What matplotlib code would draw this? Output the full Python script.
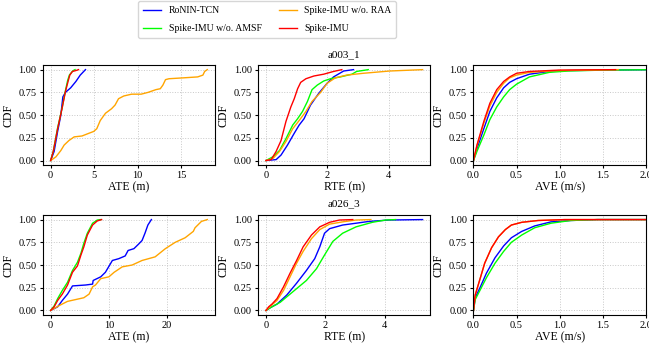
import numpy as np
import matplotlib
matplotlib.use('Agg')
from matplotlib import pyplot as plt

plt.rcParams['font.family'] = ['Liberation Serif', 'DejaVu Serif']

methods = ['RoNIN-TCN', 'Spike-IMU w/o. AMSF', 'Spike-IMU w/o. RAA', 'Spike-IMU']
colors = ['blue', 'lime', 'orange', 'red']
sequences = ['a003_1', 'a026_3']
metrics = ['ATE (m)', 'RTE (m)', 'AVE (m/s)']

#---------------------------------------- a003_1 ----------------------------------------#
# ATE
a003_ate_ronin_x = [0, 0.4, 0.8, 1.17, 1.4, 1.7, 2.3, 2.9, 3.4, 4.0]
a003_ate_ronin_y = [0, 0.10, 0.32, 0.50, 0.70, 0.75, 0.80, 0.87, 0.94, 1.0]
a003_ate_amsf_x = [0, 0.3, 0.8, 1.3, 1.7, 1.95, 2.15, 2.4, 2.6, 2.8]
a003_ate_amsf_y = [0, 0.10, 0.36, 0.57, 0.77, 0.88, 0.94, 0.97, 0.99, 1.0]
a003_ate_raa_x = [0, 0.6, 1.17, 1.55, 2.1, 2.7, 3.6, 4.4, 4.95, 5.3, 5.7, 6.3, 7.0, 7.4, 7.8, 8.4,
                  9.3, 10.4, 11.2, 12.1, 12.6, 12.9, 13.2, 13.6, 15.3, 16.9, 17.5, 17.7, 18.0]
a003_ate_raa_y = [0, 0.04, 0.11, 0.17, 0.22, 0.26, 0.27, 0.30, 0.32, 0.35, 0.44, 0.52, 0.57, 0.61, 0.68, 0.71,
                  0.73, 0.73, 0.75, 0.78, 0.79, 0.83, 0.89, 0.90, 0.91, 0.92, 0.94, 0.98, 1.0]
a003_ate_spike_x = [0, 0.3, 0.8, 1.3, 1.7, 2.0, 2.2, 2.5, 2.9, 3.2]
a003_ate_spike_y = [0, 0.10, 0.35, 0.57, 0.76, 0.87, 0.94, 0.98, 0.99, 1.0]

# RTE
a003_rte_ronin_x = [0, 0.33, 0.49, 0.7, 0.92, 1.08, 1.24, 1.45, 1.72, 1.99, 2.2, 2.53, 2.85]
a003_rte_ronin_y = [0, 0.01, 0.06, 0.17, 0.30, 0.39, 0.46, 0.61, 0.74, 0.85, 0.92, 0.985, 1.0]
a003_rte_amsf_x = [0, 0.22, 0.44, 0.65, 0.87, 1.03, 1.19, 1.35, 1.5, 1.67, 1.88, 2.1, 2.42, 2.8, 2.95, 3.33]
a003_rte_amsf_y = [0, 0.04, 0.11, 0.24, 0.39, 0.46, 0.54, 0.65, 0.78, 0.83, 0.875, 0.90, 0.92, 0.95, 0.98, 1.0]
a003_rte_raa_x = [0, 0.22, 0.44, 0.65, 0.87, 1.08, 1.3, 1.5, 1.78, 1.99, 2.26, 2.63, 3.17, 4.03, 5.1]
a003_rte_raa_y = [0, 0.02, 0.10, 0.21, 0.35, 0.44, 0.54, 0.65, 0.75, 0.85, 0.91, 0.94, 0.96, 0.985, 1.0]
a003_rte_spike_x = [0, 0.17, 0.33, 0.49, 0.65, 0.81, 0.92, 1.03, 1.13, 1.3, 1.56, 1.88, 2.2, 2.47]
a003_rte_spike_y = [0, 0.01, 0.10, 0.22, 0.43, 0.59, 0.68, 0.79, 0.86, 0.90, 0.93, 0.95, 0.98, 1.0]

# AVE
a003_ave_ronin_x = [0, 0.04, 0.12, 0.19, 0.27, 0.35, 0.42, 0.5, 0.65, 0.88, 1.1, 1.5, 2.2]
a003_ave_ronin_y = [0, 0.13, 0.35, 0.54, 0.69, 0.80, 0.86, 0.90, 0.95, 0.98, 0.99, 0.995, 1.0]
a003_ave_amsf_x = [0, 0.04, 0.12, 0.19, 0.27, 0.35, 0.42, 0.5, 0.65, 0.88, 1.1, 1.5, 2.2]
a003_ave_amsf_y = [0, 0.10, 0.28, 0.45, 0.59, 0.70, 0.78, 0.84, 0.92, 0.97, 0.985, 0.995, 1.0]
a003_ave_raa_x = [0, 0.04, 0.12, 0.19, 0.27, 0.35, 0.42, 0.5, 0.65, 0.99, 1.68]
a003_ave_raa_y = [0, 0.16, 0.41, 0.60, 0.75, 0.85, 0.91, 0.94, 0.97, 0.99, 1.0]
a003_ave_spike_x = [0, 0.04, 0.12, 0.19, 0.27, 0.35, 0.42, 0.5, 0.65, 0.99, 1.65]
a003_ave_spike_y = [0, 0.17, 0.43, 0.63, 0.78, 0.87, 0.92, 0.96, 0.98, 0.995, 1.0]

#---------------------------------------- a026_3 ----------------------------------------#
# ATE
a026_ate_ronin_x = [0, 1.2, 2.0, 2.9, 3.75, 6.0, 7.2, 7.3, 8.6, 9.4, 10.6, 11.7, 12.8, 13.3, 14.3,
                    15.1, 15.7, 16.2, 16.7, 17.3]
a026_ate_ronin_y = [0, 0.04, 0.11, 0.18, 0.27, 0.28, 0.29, 0.33, 0.37, 0.42, 0.55, 0.57, 0.60, 0.66, 0.68,
                    0.73, 0.77, 0.85, 0.94, 1.0]
a026_ate_amsf_x = [0, 0.6, 1.2, 2.0, 2.9, 3.75, 4.6, 5.2, 5.7, 6.3, 7.2, 8.0, 8.6]
a026_ate_amsf_y = [0, 0.05, 0.13, 0.22, 0.31, 0.44, 0.53, 0.63, 0.74, 0.85, 0.96, 0.995, 1.0]
a026_ate_raa_x = [0, 1.5, 2.9, 4.3, 5.7, 6.6, 7.2, 7.7, 8.6, 10.0, 10.9, 12.3, 14.0, 15.7, 17.95, 19.7,
                  21.4, 23.1, 24.5, 24.8, 25.9, 26.9]
a026_ate_raa_y = [0, 0.055, 0.10, 0.12, 0.14, 0.18, 0.26, 0.28, 0.35, 0.37, 0.42, 0.48, 0.50, 0.55, 0.59, 0.68,
                  0.75, 0.80, 0.87, 0.91, 0.98, 1.0]
a026_ate_spike_x = [0, 0.6, 1.2, 2.0, 2.9, 3.75, 4.6, 5.2, 5.7, 6.3, 7.2, 8.0, 8.75]
a026_ate_spike_y = [0, 0.04, 0.11, 0.18, 0.28, 0.42, 0.49, 0.61, 0.70, 0.83, 0.94, 0.985, 1.0]

# RTE
a026_rte_ronin_x = [0, 0.14, 0.37, 0.7, 1.03, 1.36, 1.64, 1.81, 1.97, 2.14, 2.58, 3.03, 3.47, 4.14, 5.27]
a026_rte_ronin_y = [0, 0.03, 0.07, 0.17, 0.30, 0.44, 0.57, 0.70, 0.85, 0.90, 0.94, 0.96, 0.98, 0.995, 1.0]
a026_rte_amsf_x = [0, 0.2, 0.48, 0.81, 1.03, 1.36, 1.7, 1.97, 2.25, 2.58, 3.03, 3.58, 4.02, 4.36]
a026_rte_amsf_y = [0, 0.04, 0.09, 0.18, 0.24, 0.33, 0.46, 0.61, 0.76, 0.85, 0.92, 0.97, 0.995, 1.0]
a026_rte_raa_x = [0, 0.14, 0.37, 0.59, 0.81, 1.03, 1.25, 1.53, 1.81, 2.14, 2.58, 3.03, 3.53]
a026_rte_raa_y = [0, 0.045, 0.11, 0.22, 0.37, 0.52, 0.65, 0.79, 0.89, 0.95, 0.975, 0.995, 1.0]
a026_rte_spike_x = [0, 0.09, 0.2, 0.37, 0.59, 0.81, 1.03, 1.25, 1.53, 1.81, 2.14, 2.47, 2.92]
a026_rte_spike_y = [0, 0.04, 0.07, 0.13, 0.26, 0.41, 0.55, 0.70, 0.83, 0.92, 0.97, 0.995, 1.0]

# AVE
a026_ave_ronin_x = [0, 0.02, 0.08, 0.15, 0.25, 0.35, 0.44, 0.56, 0.71, 0.9, 1.13, 1.44, 2.2]
a026_ave_ronin_y = [0, 0.14, 0.26, 0.41, 0.58, 0.71, 0.80, 0.87, 0.93, 0.975, 0.99, 1.0, 1.0]
a026_ave_amsf_x = [0, 0.02, 0.08, 0.15, 0.25, 0.35, 0.44, 0.56, 0.71, 0.9, 1.13, 1.44, 2.2]
a026_ave_amsf_y = [0, 0.12, 0.23, 0.36, 0.52, 0.65, 0.75, 0.83, 0.91, 0.96, 0.99, 1.0, 1.0]
a026_ave_raa_x = [0, 0.02, 0.08, 0.13, 0.21, 0.29, 0.37, 0.44, 0.56, 0.75, 1.06, 2.2]
a026_ave_raa_y = [0, 0.17, 0.36, 0.52, 0.69, 0.81, 0.89, 0.94, 0.97, 0.99, 1.0, 1.0]
a026_ave_spike_x = [0, 0.02, 0.08, 0.13, 0.21, 0.29, 0.37, 0.44, 0.56, 0.75, 1.06, 2.2]
a026_ave_spike_y = [0, 0.17, 0.36, 0.52, 0.69, 0.81, 0.89, 0.94, 0.97, 0.99, 1.0, 1.0]

curves = [
    [  # a003_1
        [(a003_ate_ronin_x, a003_ate_ronin_y), (a003_ate_amsf_x, a003_ate_amsf_y),
         (a003_ate_raa_x, a003_ate_raa_y), (a003_ate_spike_x, a003_ate_spike_y)],
        [(a003_rte_ronin_x, a003_rte_ronin_y), (a003_rte_amsf_x, a003_rte_amsf_y),
         (a003_rte_raa_x, a003_rte_raa_y), (a003_rte_spike_x, a003_rte_spike_y)],
        [(a003_ave_ronin_x, a003_ave_ronin_y), (a003_ave_amsf_x, a003_ave_amsf_y),
         (a003_ave_raa_x, a003_ave_raa_y), (a003_ave_spike_x, a003_ave_spike_y)],
    ],
    [  # a026_3
        [(a026_ate_ronin_x, a026_ate_ronin_y), (a026_ate_amsf_x, a026_ate_amsf_y),
         (a026_ate_raa_x, a026_ate_raa_y), (a026_ate_spike_x, a026_ate_spike_y)],
        [(a026_rte_ronin_x, a026_rte_ronin_y), (a026_rte_amsf_x, a026_rte_amsf_y),
         (a026_rte_raa_x, a026_rte_raa_y), (a026_rte_spike_x, a026_rte_spike_y)],
        [(a026_ave_ronin_x, a026_ave_ronin_y), (a026_ave_amsf_x, a026_ave_amsf_y),
         (a026_ave_raa_x, a026_ave_raa_y), (a026_ave_spike_x, a026_ave_spike_y)],
    ],
]

fig, axes = plt.subplots(2, 3, figsize=(6.49, 3.5), dpi=100)
fig.subplots_adjust(left=0.066, right=0.995, top=0.814, bottom=0.1, wspace=0.25, hspace=0.5)

for r in range(2):
    for c in range(3):
        ax = axes[r, c]
        for m in range(4):
            x, y = curves[r][c][m]
            ax.plot(x, y, color=colors[m], linewidth=1.0, label=methods[m])
        ax.set_xlabel(metrics[c], fontsize=8.5, labelpad=1)
        ax.set_ylabel('CDF', fontsize=8.5, labelpad=3)
        ax.tick_params(labelsize=7.5, length=2.5, pad=2)
        ax.set_yticks([0, 0.25, 0.5, 0.75, 1.0])
        ax.grid(True, linestyle=':', color='#c8c8c8', linewidth=0.7)
        if c == 2:
            ax.set_xlim(0, 2.0)
        if c == 1:
            ax.set_title(sequences[r], fontsize=8, pad=6)

handles, labels = axes[0, 0].get_legend_handles_labels()
fig.legend(handles, labels, loc='upper center', bbox_to_anchor=(0.412, 1.01), ncol=2, fontsize=7,
           handlelength=1.8, handletextpad=0.8, columnspacing=1.8, labelspacing=0.9,
           borderpad=0.5, edgecolor='#cccccc')

plt.savefig('out.png', dpi=100)
